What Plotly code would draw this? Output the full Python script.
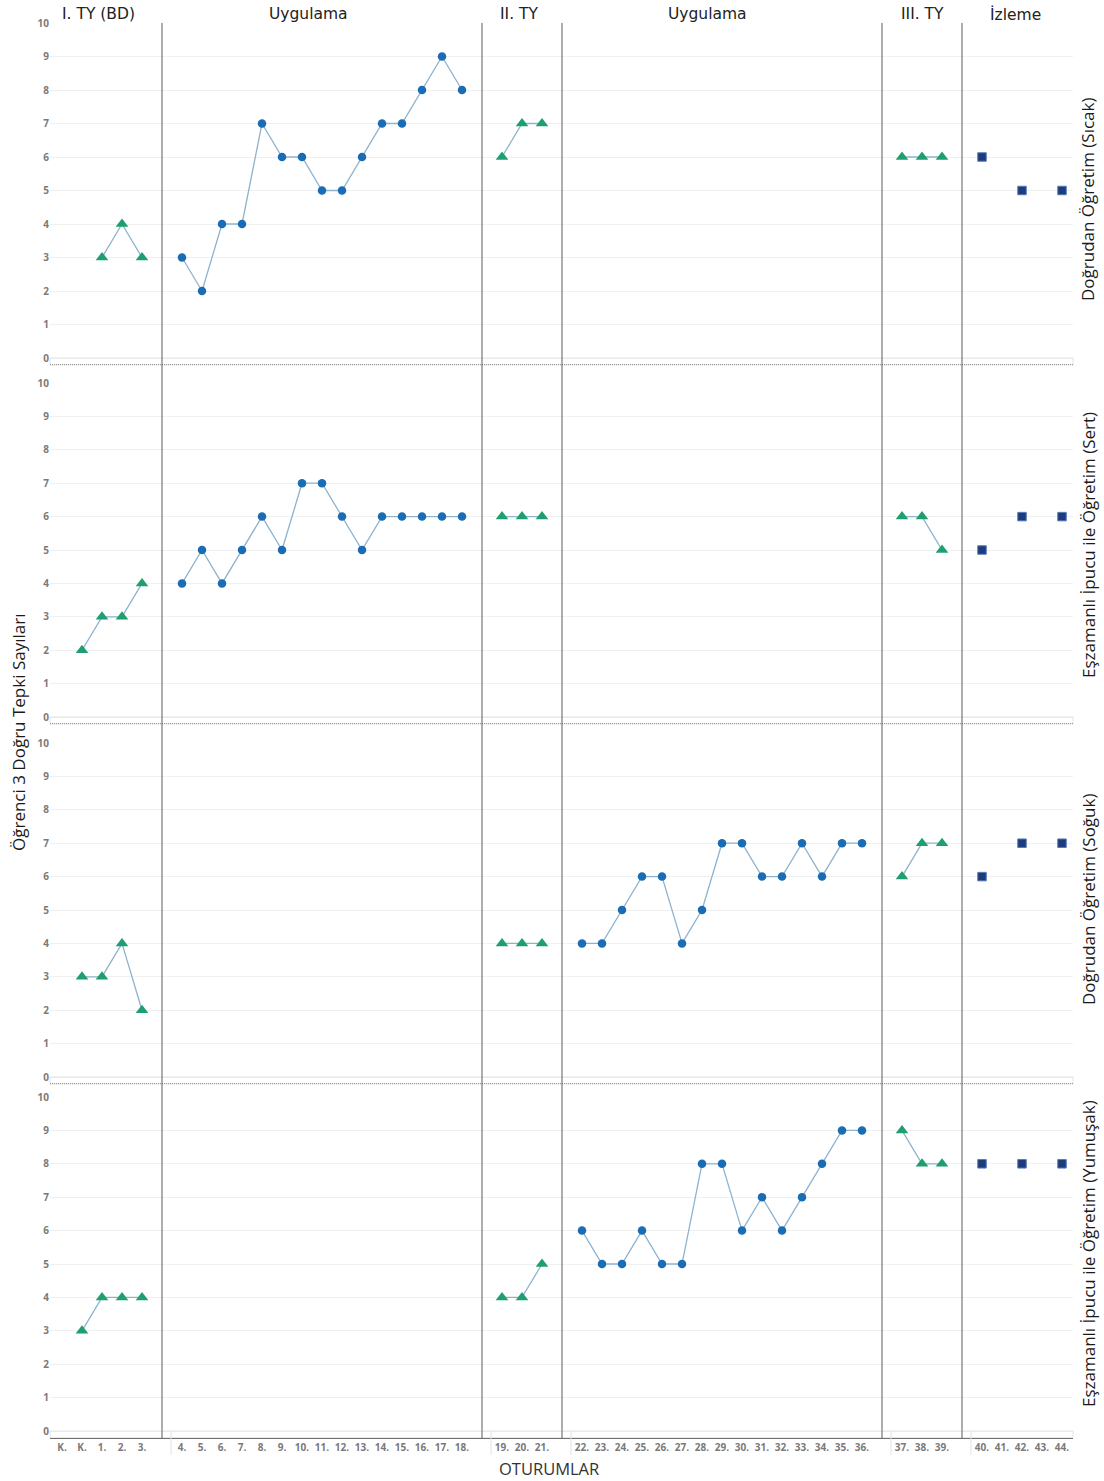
import plotly.graph_objects as go
from plotly.subplots import make_subplots

# Session labels (x axis), grouped by phase
session_labels = ["K.", "K."] + [f"{i}." for i in range(1, 45)]
phase_names = ["I. TY (BD)", "Uygulama", "II. TY", "Uygulama", "III. TY", "İzleme"]
phase_lengths = [5, 15, 3, 15, 3, 5]
phase_kinds = ["probe", "teach", "probe", "teach", "probe", "follow"]

# Correct responses per session for each condition (None = no session)
sicak = [None, None, 3, 4, 3,
         3, 2, 4, 4, 7, 6, 6, 5, 5, 6, 7, 7, 8, 9, 8,
         6, 7, 7,
         None, None, None, None, None, None, None, None, None, None, None, None, None, None, None,
         6, 6, 6,
         6, None, 5, None, 5]
sert = [None, 2, 3, 3, 4,
        4, 5, 4, 5, 6, 5, 7, 7, 6, 5, 6, 6, 6, 6, 6,
        6, 6, 6,
        None, None, None, None, None, None, None, None, None, None, None, None, None, None, None,
        6, 6, 5,
        5, None, 6, None, 6]
soguk = [None, 3, 3, 4, 2,
         None, None, None, None, None, None, None, None, None, None, None, None, None, None, None,
         4, 4, 4,
         4, 4, 5, 6, 6, 4, 5, 7, 7, 6, 6, 7, 6, 7, 7,
         6, 7, 7,
         6, None, 7, None, 7]
yumusak = [None, 3, 4, 4, 4,
           None, None, None, None, None, None, None, None, None, None, None, None, None, None, None,
           4, 4, 5,
           6, 5, 5, 6, 5, 5, 8, 8, 6, 7, 6, 7, 8, 9, 9,
           9, 8, 8,
           8, None, 8, None, 8]

panel_titles = ["Doğrudan Öğretim (Sıcak)", "Eşzamanlı İpucu ile Öğretim (Sert)",
                "Doğrudan Öğretim (Soğuk)", "Eşzamanlı İpucu ile Öğretim (Yumuşak)"]
panel_series = [sicak, sert, soguk, yumusak]

# x positions: one empty slot between phases
positions, phase_slices, boundaries = [], [], []
x, start = 0, 0
for n in phase_lengths:
    positions.extend(range(x, x + n))
    phase_slices.append((start, start + n))
    boundaries.append(x + n)
    x += n + 1
    start += n
boundaries = boundaries[:-1]

H, W = 1481, 1104
def py(px):
    return 1 - px / H

# panel extents in pixels (top = value 10, bottom = plot edge)
panel_px = [(23, 364.7), (383, 723.7), (743, 1083.7), (1097, 1437.7)]

fig = make_subplots(rows=4, cols=1, shared_xaxes=True, vertical_spacing=0.0)

LINE_C = "#8db3cf"
GREEN = "#1f9e6f"
BLUE = "#1a6db5"
NAVY = "#1b3d7e"

for r, values in enumerate(panel_series, start=1):
    for (a, b), kind in zip(phase_slices, phase_kinds):
        xs = positions[a:b]
        ys = values[a:b]
        if all(v is None for v in ys):
            continue
        if kind == "probe":
            tr = go.Scatter(x=xs, y=ys, mode="lines+markers",
                            line=dict(color=LINE_C, width=1.3),
                            marker=dict(symbol="triangle-up", size=11, color=GREEN),
                            connectgaps=False, cliponaxis=False, showlegend=False)
        elif kind == "teach":
            tr = go.Scatter(x=xs, y=ys, mode="lines+markers",
                            line=dict(color=LINE_C, width=1.3),
                            marker=dict(symbol="circle", size=8.5, color=BLUE),
                            connectgaps=False, cliponaxis=False, showlegend=False)
        else:
            tr = go.Scatter(x=xs, y=ys, mode="markers",
                            marker=dict(symbol="square", size=8.5, color=NAVY,
                                        line=dict(color="#5a7ab8", width=1)),
                            cliponaxis=False, showlegend=False)
        fig.add_trace(tr, row=r, col=1)

x_range = [-0.6, 50.55]
x_dom = [50 / W, 1073 / W]
tick_font = dict(family="Open Sans", size=10, color="#7a7a7a", weight="bold")

for r in range(1, 5):
    top, bot = panel_px[r - 1]
    yname = "yaxis" if r == 1 else f"yaxis{r}"
    xname = "xaxis" if r == 1 else f"xaxis{r}"
    fig.layout[yname].update(domain=[py(bot), py(top)], range=[-0.2, 10],
                             tickvals=list(range(0, 11)), tickfont=tick_font,
                             showgrid=True, gridcolor="#f0f0f0", gridwidth=1,
                             zeroline=False, showline=False, ticks="", ticklen=0,
                             automargin=False)
    fig.layout[xname].update(domain=x_dom, range=x_range, showgrid=False,
                             zeroline=False, tickmode="array",
                             tickvals=positions, ticktext=session_labels,
                             showticklabels=(r == 4), tickfont=tick_font, ticks="",
                             showline=(r == 4), linecolor="#555555", linewidth=1.2,
                             automargin=False)

shapes = []
# light band under each panel's zero line and dotted separator
for r in range(1, 5):
    top, bot = panel_px[r - 1]
    zero_px = top + (bot - top) * 10 / 10.2
    shapes.append(dict(type="rect", xref="paper", yref="paper",
                       x0=x_dom[0], x1=x_dom[1], y0=py(bot), y1=py(zero_px),
                       line=dict(color="#e4e4e4", width=1), fillcolor="rgba(0,0,0,0)"))
    if r < 4:
        shapes.append(dict(type="line", xref="paper", yref="paper",
                           x0=x_dom[0], x1=x_dom[1], y0=py(bot), y1=py(bot),
                           line=dict(color="#8a8a8a", width=1, dash="1px,1px")))

# phase change lines through all panels
for bnd in boundaries:
    shapes.append(dict(type="line", xref="x4", yref="paper", x0=bnd, x1=bnd,
                       y0=py(1438), y1=py(23),
                       line=dict(color="#6a6a6a", width=1.1)))

# faint group separators in the session label row
for bnd in boundaries:
    shapes.append(dict(type="line", xref="x4", yref="paper", x0=bnd + 0.45, x1=bnd + 0.45,
                       y0=py(1455), y1=py(1431),
                       line=dict(color="#e2e2e2", width=1)))

annotations = []
header_x = [1.8, 12.3, 22.85, 32.25, 43.0, 47.65]
for name, hx in zip(phase_names, header_x):
    annotations.append(dict(x=hx, y=py(14), xref="x4", yref="paper", text=name,
                            showarrow=False, xanchor="center", yanchor="middle",
                            font=dict(family="DejaVu Sans", size=15.5, color="#222222")))

title_centers = [200, 545, 900, 1254]
for t, cy in zip(panel_titles, title_centers):
    annotations.append(dict(x=1088 / W, y=py(cy), xref="paper", yref="paper", text=t,
                            showarrow=False, textangle=-90, xanchor="center", yanchor="middle",
                            font=dict(family="Open Sans", size=17, color="#1a1a1a")))

annotations.append(dict(x=18 / W, y=py(733), xref="paper", yref="paper",
                        text="Öğrenci 3 Doğru Tepki Sayıları", showarrow=False, textangle=-90,
                        xanchor="center", yanchor="middle",
                        font=dict(family="Open Sans", size=17, color="#1a1a1a")))
annotations.append(dict(x=549 / W, y=py(1468), xref="paper", yref="paper",
                        text="OTURUMLAR", showarrow=False, xanchor="center", yanchor="middle",
                        font=dict(family="Open Sans", size=16.5, color="#333333")))

fig.update_layout(width=W, height=H, margin=dict(l=0, r=0, t=0, b=0, autoexpand=False),
                  paper_bgcolor="white", plot_bgcolor="white",
                  shapes=shapes, annotations=annotations, showlegend=False)

fig.write_html("out.html")
